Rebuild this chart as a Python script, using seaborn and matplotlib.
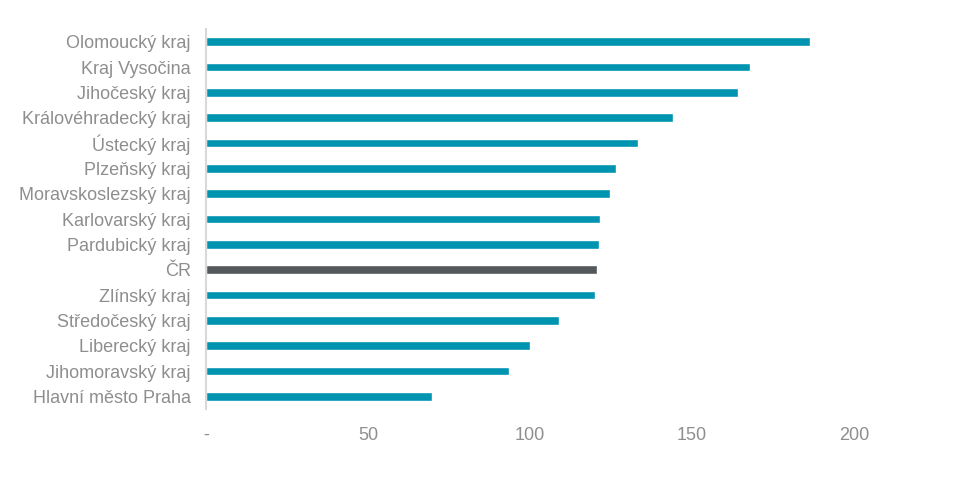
import pandas as pd
import matplotlib
matplotlib.use("Agg")
import matplotlib.pyplot as plt
import seaborn as sns

regions = ['Olomoucký kraj', 'Kraj Vysočina', 'Jihočeský kraj', 'Královéhradecký kraj',
           'Ústecký kraj', 'Plzeňský kraj', 'Moravskoslezský kraj', 'Karlovarský kraj',
           'Pardubický kraj', 'ČR', 'Zlínský kraj', 'Středočeský kraj', 'Liberecký kraj',
           'Jihomoravský kraj', 'Hlavní město Praha']
values = [186.5, 168, 164.3, 144.2, 133.3, 126.6, 124.8, 121.6,
          121.3, 120.7, 120.0, 109.0, 100.0, 93.4, 69.8]
x_ticks = [0, 50, 100, 150, 200]
x_tick_labels = ['-', '50', '100', '150', '200']

teal = '#0094B0'
dark = '#54585A'
text_col = '#8E8E8E'
colors = [dark if r == 'ČR' else teal for r in regions]

df = pd.DataFrame({'region': regions, 'value': values})

sns.set_style('white')
plt.rcParams['font.family'] = ['Liberation Sans', 'DejaVu Sans']

fig = plt.figure(figsize=(9.59, 4.8), dpi=100)
ax = fig.add_axes([206 / 959, 1 - 409 / 480, 729 / 959, 380 / 480])

sns.barplot(data=df, x='value', y='region', hue='region', palette=colors,
            orient='h', width=0.34, legend=False, ax=ax, saturation=1)

ax.set_xlim(0, 225)
ax.set_ylim(14.5, -0.5)
ax.set_xticks(x_ticks)
ax.set_xticklabels(x_tick_labels)
ax.set_xlabel('')
ax.set_ylabel('')
ax.tick_params(axis='both', length=0, colors=text_col, labelsize=13)
ax.tick_params(axis='y', pad=11)
ax.tick_params(axis='x', pad=13)

for side in ['top', 'right', 'bottom']:
    ax.spines[side].set_visible(False)
ax.spines['left'].set_color('#D9D9D9')
ax.spines['left'].set_linewidth(1.5)

fig.savefig('out.png', dpi=100)
